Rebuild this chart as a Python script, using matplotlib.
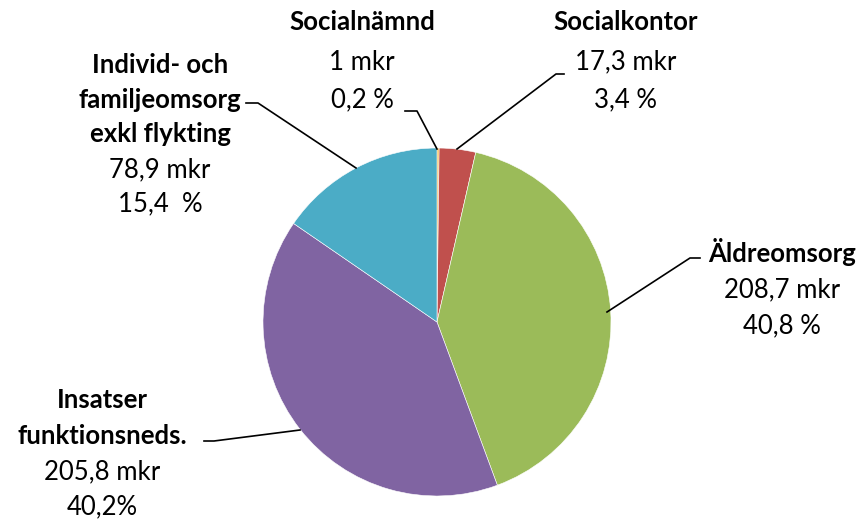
import matplotlib.pyplot as plt

# Data
names = ['Socialnämnd', 'Socialkontor', 'Äldreomsorg', 'Insatser funktionsneds.',
         'Individ- och familjeomsorg exkl flykting']
values = [1.0, 17.3, 208.7, 205.8, 78.9]
amount_labels = ['1 mkr', '17,3 mkr', '208,7 mkr', '205,8 mkr', '78,9 mkr']
pct_labels = ['0,2 %', '3,4 %', '40,8 %', '40,2%', '15,4  %']
colors = ['#F2B33D', '#C0504D', '#9BBB59', '#8064A2', '#4BACC6']

plt.rcParams['font.family'] = ['Lato', 'DejaVu Sans']

W, H = 863, 519
fig = plt.figure(figsize=(W / 100, H / 100), dpi=100)
ax = fig.add_axes([0, 0, 1, 1])

def py(y):
    return H - y

ax.pie(values, colors=colors, startangle=90, counterclock=False,
       center=(437, py(322)), radius=174, frame=True,
       wedgeprops=dict(edgecolor='white', linewidth=0.4))
ax.set_xlim(0, W)
ax.set_ylim(0, H)
ax.set_aspect('equal')
ax.axis('off')

# label blocks: (x center, [(text, y, bold)])
blocks = [
    (362, [('Socialnämnd', 22, True), (amount_labels[0], 62, False), (pct_labels[0], 100, False)]),
    (626, [('Socialkontor', 22, True), (amount_labels[1], 62, False), (pct_labels[1], 100, False)]),
    (782, [('Äldreomsorg', 252, True), (amount_labels[2], 290, False), (pct_labels[2], 326, False)]),
    (102, [('Insatser', 400, True), ('funktionsneds.', 436, True),
          (amount_labels[3], 472, False), (pct_labels[3], 507, False)]),
    (160, [('Individ- och', 65, True), ('familjeomsorg', 100, True), ('exkl flykting', 134, True),
           (amount_labels[4], 170, False), (pct_labels[4], 204, False)]),
]
for x, lines in blocks:
    for txt, y, bold in lines:
        ax.text(x, py(y), txt, ha='center', va='center', fontsize=18.5,
                fontweight='bold' if bold else 'normal', color='black')

# leader lines (pixel coords)
leaders = [
    [(405, 111), (417, 111), (437, 149)],
    [(564, 74), (556, 74), (457, 149)],
    [(700, 258), (690, 258), (607, 312)],
    [(204, 441), (214, 441), (300, 430)],
    [(246, 103), (258, 103), (356, 168)],
]
for pts in leaders:
    ax.plot([p[0] for p in pts], [py(p[1]) for p in pts], color='black', linewidth=1.2)

fig.savefig('out.png', dpi=100)
